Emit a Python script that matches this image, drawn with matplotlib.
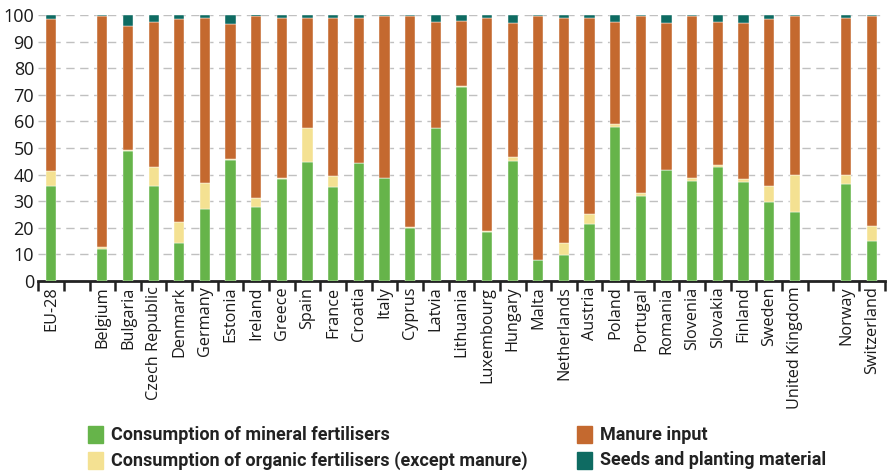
import numpy as np
import matplotlib.pyplot as plt
from matplotlib.patches import Rectangle

# categories ('' = empty gap slot)
countries = ['EU-28', '', 'Belgium', 'Bulgaria', 'Czech Republic', 'Denmark', 'Germany',
             'Estonia', 'Ireland', 'Greece', 'Spain', 'France', 'Croatia', 'Italy',
             'Cyprus', 'Latvia', 'Lithuania', 'Luxembourg', 'Hungary', 'Malta',
             'Netherlands', 'Austria', 'Poland', 'Portugal', 'Romania', 'Slovenia',
             'Slovakia', 'Finland', 'Sweden', 'United Kingdom', '', 'Norway', 'Switzerland']

# cumulative tops (percent)
mineral_top = [35.7, 0, 11.9, 48.9, 35.7, 14.4, 27.1, 45.5, 28.0, 38.3, 44.8, 35.2, 44.3, 38.7,
               20.1, 57.5, 73.1, 18.6, 45.2, 7.9, 9.8, 21.6, 57.8, 32.0, 41.7, 37.7,
               42.7, 37.1, 29.6, 26.1, 0, 36.3, 15.1]
organic_top = [41.3, 0, 12.9, 49.1, 42.8, 22.1, 36.8, 45.7, 31.2, 38.6, 57.4, 39.3, 44.5, 38.9,
               20.3, 57.7, 73.3, 18.7, 46.5, 8.0, 14.1, 25.1, 59.0, 33.0, 41.9, 38.8,
               43.5, 38.3, 35.8, 39.8, 0, 39.8, 20.6]
manure_top = [98.4, 0, 99.5, 96.0, 97.5, 98.4, 99.1, 96.5, 99.7, 99.1, 99.1, 99.1, 99.1, 99.5,
              99.5, 97.6, 97.9, 99.1, 96.9, 99.5, 99.1, 99.1, 97.5, 99.5, 96.9, 99.5,
              97.5, 96.9, 98.4, 99.5, 0, 99.1, 99.5]
seeds_top = [100, 0, 100, 100, 100, 100, 100, 100, 100.3, 100, 100, 100, 100, 100,
             100, 100, 100, 100, 100, 100, 100, 100, 100, 100, 100, 100,
             100, 100, 100, 100, 0, 100, 100]

labels = ['Consumption of mineral fertilisers',
          'Consumption of organic fertilisers (except manure)',
          'Manure input',
          'Seeds and planting material']
colors = ['#66b44a', '#f4e192', '#c4692f', '#0e6b62']

mineral = np.array(mineral_top)
organic = np.array(organic_top) - mineral
manure = np.array(manure_top) - np.array(organic_top)
seeds = np.array(seeds_top) - np.array(manure_top)

plt.rcParams['font.family'] = ['Open Sans', 'DejaVu Sans']

fig = plt.figure(figsize=(8.89, 4.73), dpi=100)
ax = fig.add_axes([0.043, 0.406, 0.952, 0.562])

x = np.arange(len(countries))
w = 0.4
bottom = np.zeros(len(countries))
has_bar = np.array([c != '' for c in countries])
for vals, c in zip([mineral, organic, manure, seeds], colors):
    ax.bar(x[has_bar], vals[has_bar], w, bottom=bottom[has_bar], color=c,
           edgecolor='white', linewidth=0.3, zorder=3)
    bottom += vals

ax.set_xlim(-0.5, len(countries) - 0.5)
ax.set_ylim(0, 100)
ax.set_yticks(np.arange(0, 101, 10))
ax.yaxis.grid(True, linestyle=(0, (6, 4)), color='#c0c0c0', linewidth=1.0, zorder=0)
ax.tick_params(axis='y', length=0, labelsize=13, pad=3, colors='#1a1a1a')

ax.set_xticks(x)
ax.set_xticklabels(countries, rotation=90, fontsize=11.7, color='#1a1a1a')
ax.tick_params(axis='x', length=0, pad=4)
ax.set_xticks(np.arange(-0.5, len(countries)), minor=True)
ax.tick_params(axis='x', which='minor', length=7, width=1.8, color='#222222', direction='out')

for s in ['top', 'right', 'left']:
    ax.spines[s].set_visible(False)
ax.spines['bottom'].set_linewidth(2)
ax.spines['bottom'].set_color('#222222')

# legend laid out in two columns
pos = [(0.099, 0.081), (0.099, 0.027), (0.649, 0.081), (0.649, 0.027)]
for (lx, ly), lab, c in zip(pos, labels, colors):
    fig.add_artist(Rectangle((lx, ly - 0.018), 0.017, 0.036, color=c, transform=fig.transFigure))
    fig.text(lx + 0.026, ly, lab, fontsize=13, fontweight='bold', va='center',
             family=['Roboto', 'DejaVu Sans'], color='#222222')

fig.savefig('out.png', dpi=100)
